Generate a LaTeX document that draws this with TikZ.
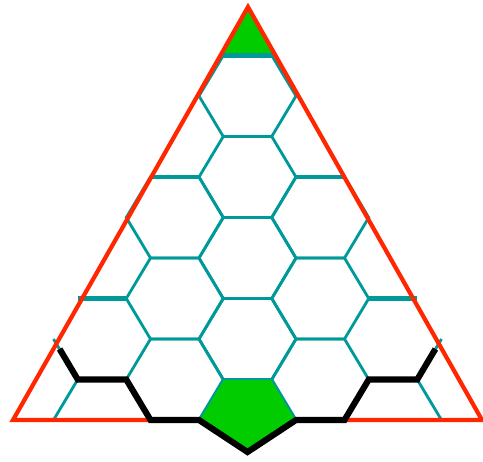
\documentclass[tikz,border=0pt]{standalone}
\usepackage{tikz}
\usetikzlibrary{calc}
\definecolor{GridTeal}{HTML}{009999}
\definecolor{RimRed}{HTML}{FF2600}
\definecolor{CellGreen}{HTML}{00CC00}

\begin{document}
\begin{tikzpicture}[x=0.02cm, y=-0.02cm,
    hexline/.style={color=GridTeal, line width=1.6pt},
    rimline/.style={color=GridTeal, line width=2.6pt},
    pathline/.style={color=black, line width=3.5pt}]
    \useasboundingbox (0,0) rectangle (483,461);

    % Green corner cell at the apex
    \fill[CellGreen] (248,7) -- (220.4,55.5) -- (275.5,55.5) -- cycle;

    % Complete hexagons inside the triangle
    \foreach \cx/\cy in {247.5/96, 247.5/177, 247.5/258, 247.5/339,
                         174.75/217.5, 174.75/298.5, 174.75/379.5,
                         320.25/217.5, 320.25/298.5, 320.25/379.5}
        \draw[hexline] (\cx-48.5,\cy) -- ++(24.25,-40.5) -- ++(48.5,0) -- ++(24.25,40.5)
            -- ++(-24.25,40.5) -- ++(-48.5,0) -- cycle;

    % Edges along the rim (heavier)
    \foreach \cx/\cy in {247.5/55.5, 174.75/177, 320.25/177, 102/298.5, 393/298.5}
        \draw[rimline] (\cx-24.25,\cy) -- (\cx+24.25,\cy);

    % Corner stubs
    \draw[hexline] (53.5,339) -- (77.75,379.5) -- (53.5,420);
    \draw[hexline] (441.5,339) -- (417.25,379.5) -- (441.5,420);

    % Outer triangle
    \draw[RimRed, line width=2.4pt] (13,420) -- (248,7) -- (482,420) -- cycle;

    % Green cell at the bottom
    \filldraw[fill=CellGreen, draw=GridTeal, line width=0.8pt] (223.25,379.5) -- (271.75,379.5)
        -- (296,420) -- (247.5,452) -- (199,420) -- cycle;

    % Black path along the bottom
    \draw[pathline] (59.6,349) -- (77.75,379.5) -- (126.25,379.5) -- (150.5,420) -- (199,420)
        -- (247.5,452) -- (296,420) -- (344.5,420) -- (368.75,379.5) -- (417.25,379.5) -- (435.4,349);
\end{tikzpicture}
\end{document}
